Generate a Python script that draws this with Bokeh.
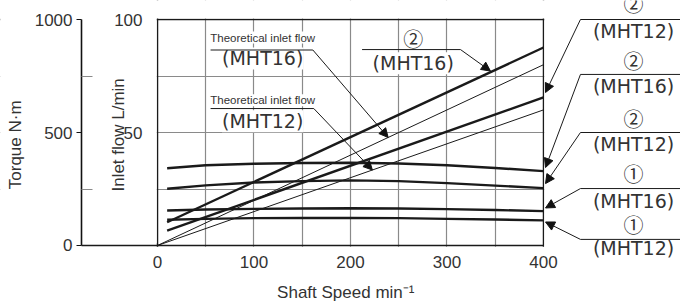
import math
from bokeh.plotting import figure
from bokeh.models import (Range1d, LinearAxis, FixedTicker, Grid, Label, Arrow,
                          NormalHead, BoxAnnotation)
from bokeh.embed import file_html
from bokeh.resources import INLINE

# ---- data ----
speed_theo = [0, 400]
theo_flow_16 = [0, 80]
theo_flow_12 = [0, 60]

speed_act = [10, 400]
flow_16 = [10.3, 87.6]
flow_12 = [6.6, 65.5]

speed_t = [10, 50, 100, 150, 200, 250, 300, 350, 400]
torque_16_2 = [342, 355, 362, 365, 366, 363, 355, 343, 329]
torque_12_2 = [251, 266, 279, 285, 288, 285, 276, 265, 254]
torque_16_1 = [155, 159, 162, 164, 165, 164, 161, 157, 152]
torque_12_1 = [114, 118, 121, 122, 122, 121, 118, 115, 111]

x_ticks = [0, 100, 200, 300, 400]
x_grid = [50, 100, 150, 200, 250, 300, 350]
flow_ticks = [50, 100]
flow_grid = [25, 50, 75]
torque_ticks = [0, 500, 1000]
torque_minor = [250, 750]

AX_FONT = "Liberation Sans"
WIDE = "DejaVu Sans"
CJK = "Noto Sans CJK JP"
TXT = "#333333"
INK = "#1a1a1a"
GRID = "#8a8a8a"

TORQUE_X = -78.76   # position of the torque axis, in shaft-speed units

p = figure(width=680, height=305, output_backend="svg", toolbar_location=None,
           x_range=Range1d(-162.69, 541.97), y_range=Range1d(-26.55, 108.41),
           x_axis_location=None, y_axis_location=None,
           min_border_left=0, min_border_right=0, min_border_top=0,
           min_border_bottom=0)
p.extra_y_ranges = {"torque": Range1d(-265.5, 1084.1)}
p.outline_line_color = None
p.xgrid.visible = False
p.ygrid.visible = False

# grid + chart box
p.add_layout(Grid(dimension=0, ticker=FixedTicker(ticks=x_grid),
                  grid_line_color=GRID, grid_line_width=1.2))
p.add_layout(Grid(dimension=1, ticker=FixedTicker(ticks=flow_grid),
                  grid_line_color=GRID, grid_line_width=1.2))
p.add_layout(Grid(dimension=0, ticker=FixedTicker(ticks=[0, 400]),
                  grid_line_color=INK, grid_line_width=1.5))
p.add_layout(Grid(dimension=1, ticker=FixedTicker(ticks=[100]),
                  grid_line_color=INK, grid_line_width=1.5))


def mask(**kw):
    p.add_layout(BoxAnnotation(fill_color="white", fill_alpha=1.0, line_color=None,
                               level="underlay", **kw))


# keep the grid inside the chart box
mask(left=400.8)
mask(bottom=100.4)
mask(top=-0.6)
mask(right=-0.8, bottom=1)

# axes
fax = LinearAxis(fixed_location=0, bounds=(0, 100), ticker=FixedTicker(ticks=flow_ticks),
                 major_label_text_font=AX_FONT, major_label_text_font_size="17px",
                 major_label_text_color=TXT, major_label_standoff=9,
                 major_tick_line_color=None, minor_tick_line_color=None,
                 axis_line_color=None)
p.add_layout(fax, "left")

tax = LinearAxis(y_range_name="torque", fixed_location=TORQUE_X, bounds=(0, 1000),
                 ticker=FixedTicker(ticks=torque_ticks, minor_ticks=torque_minor),
                 major_label_text_font=AX_FONT, major_label_text_font_size="17px",
                 major_label_text_color=TXT, major_label_standoff=4,
                 major_tick_in=0, major_tick_out=5, minor_tick_in=11, minor_tick_out=0,
                 axis_line_color="#111111", axis_line_width=1.6,
                 major_tick_line_color="#111111", minor_tick_line_color=GRID,
                 minor_tick_line_width=1.2)
p.add_layout(tax, "left")

xax = LinearAxis(fixed_location=0, bounds=(0, 400),
                 ticker=FixedTicker(ticks=x_ticks), major_tick_line_color=None,
                 minor_tick_line_color=None, axis_line_color=INK,
                 axis_line_width=1.5, major_label_standoff=5,
                 major_label_text_font=AX_FONT, major_label_text_font_size="17px",
                 major_label_text_color=TXT)
p.add_layout(xax, "below")

# curves
p.line(speed_theo, theo_flow_16, line_color=INK, line_width=1)
p.line(speed_theo, theo_flow_12, line_color=INK, line_width=1)
p.line(speed_act, flow_16, line_color=INK, line_width=2.4)
p.line(speed_act, flow_12, line_color=INK, line_width=2.4)
for ys in (torque_16_2, torque_12_2, torque_16_1, torque_12_1):
    p.line(speed_t, ys, line_color=INK, line_width=2.4, y_range_name="torque")


def txt(x, y, s, font=WIDE, size="19px", bg=None, angle=0.0):
    lab = Label(x=x, y=y, text=s, text_align="center", text_baseline="middle",
                text_font=font, text_font_size=size, text_color=TXT, angle=angle)
    if bg:
        lab.background_fill_color = bg
    p.add_layout(lab)


def seg(x0, y0, x1, y1, head=False, width=1.0):
    p.add_layout(Arrow(x_start=x0, y_start=y0, x_end=x1, y_end=y1,
                       line_color=INK, line_width=width,
                       end=NormalHead(size=9, fill_color="#111111",
                                      line_color="#111111") if head else None))


# base line joining the torque axis to the chart box
seg(TORQUE_X, 0, 0, 0, width=1.5)

# axis titles
txt(-147.2, 45.6, "Torque  N·m", font=AX_FONT, size="17px", angle=math.pi / 2)
txt(-40.4, 50.0, "Inlet flow  L/min", font=AX_FONT, size="17px", angle=math.pi / 2)
txt(200, -20.8, "Shaft Speed   min⁻¹", font=AX_FONT, size="17px")

# in-plot callouts
txt(109, 92, "Theoretical inlet flow", font=AX_FONT, size="11.5px", bg="white")
txt(109, 82.8, "(MHT16)", bg="white")
seg(55, 86.5, 161, 86.5)
seg(161, 86.5, 239, 47.8, head=True)

txt(109, 64.3, "Theoretical inlet flow", font=AX_FONT, size="11.5px", bg="white")
txt(109, 55.0, "(MHT12)", bg="white")
seg(55, 60.6, 162, 60.6)
seg(162, 60.6, 222.7, 33.4, head=True)

txt(265, 91.6, "②", font=CJK, size="20px", bg="white")
txt(265, 80.6, "(MHT16)", bg="white")
seg(212, 86.7, 314, 86.7)
seg(314, 86.7, 345, 77.2, head=True)

# right-hand callouts
right = [
    ("②", "(MHT12)", 107.0, 95.1, 100.0, 67.7),
    ("②", "(MHT16)", 81.9, 70.4, 75.7, 34.5),
    ("②", "(MHT12)", 56.2, 45.1, 50.0, 27.4),
    ("①", "(MHT16)", 31.9, 19.9, 25.2, 16.6),
    ("①", "(MHT12)", 9.3, -1.3, 2.7, 10.4),
]
for c, m, yc, ym, yl, ytip in right:
    txt(493.3, yc, c, font=CJK, size="20px")
    txt(493.3, ym, m)
    seg(438.3, yl, 542, yl)
    seg(438.3, yl, 402.1, ytip, head=True)

open("out.html", "w").write(file_html(p, INLINE))
